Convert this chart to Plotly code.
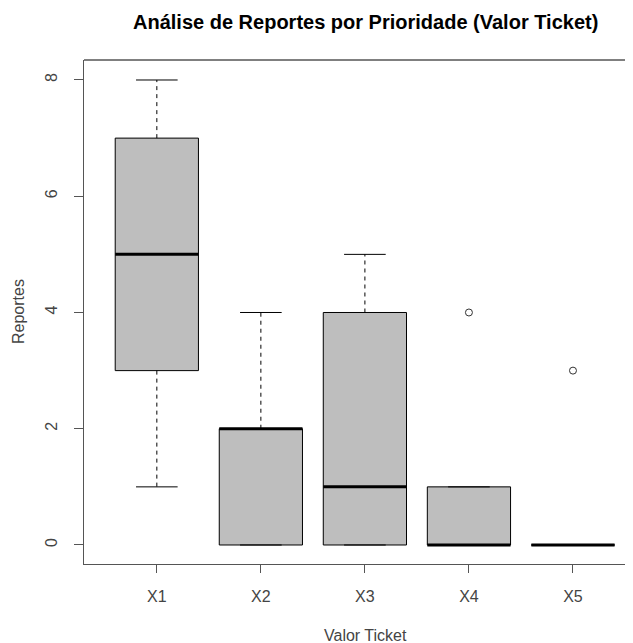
import plotly.graph_objects as go

# boxplot summary per priority
categories = ["X1", "X2", "X3", "X4", "X5"]
q1 = [3, 0, 0, 0, 0]
median = [5, 2, 1, 0, 0]
q3 = [7, 2, 4, 1, 0]
whisk_lo = [1, 0, 0, 0, 0]
whisk_hi = [8, 4, 5, 1, 0]
outlier_cat = ["X4", "X5"]
outlier_val = [4, 3]

BOX_W = 0.8
CAP_W = 0.4
FONT = "Liberation Sans, Arial, sans-serif"

pos = list(range(1, len(categories) + 1))
pos_of = dict(zip(categories, pos))

fig = go.Figure()

# boxes (q1 -> q3)
fig.add_trace(go.Bar(
    x=pos, y=[b - a for a, b in zip(q1, q3)], base=q1, width=BOX_W,
    marker=dict(color="#BEBEBE", line=dict(color="black", width=1)),
    hoverinfo="skip",
))

def segs(xs, ys):
    X, Y = [], []
    for (x0, x1), (y0, y1) in zip(xs, ys):
        X += [x0, x1, None]
        Y += [y0, y1, None]
    return X, Y

# whiskers (dashed)
wx, wy = segs([(p, p) for p in pos] * 2,
              list(zip(q3, whisk_hi)) + list(zip(q1, whisk_lo)))
fig.add_trace(go.Scatter(x=wx, y=wy, mode="lines",
                         line=dict(color="black", width=1, dash="4px,4px"),
                         hoverinfo="skip"))

# caps
cx, cy = segs([(p - CAP_W / 2, p + CAP_W / 2) for p in pos] * 2,
              [(v, v) for v in whisk_hi] + [(v, v) for v in whisk_lo])
fig.add_trace(go.Scatter(x=cx, y=cy, mode="lines",
                         line=dict(color="black", width=1), hoverinfo="skip"))

# medians
mx, my = segs([(p - BOX_W / 2, p + BOX_W / 2) for p in pos],
              [(m, m) for m in median])
fig.add_trace(go.Scatter(x=mx, y=my, mode="lines",
                         line=dict(color="black", width=3), hoverinfo="skip"))

# outliers
fig.add_trace(go.Scatter(
    x=[pos_of[c] for c in outlier_cat], y=outlier_val, mode="markers",
    marker=dict(symbol="circle-open", size=7, color="#333", line=dict(width=1)),
    hoverinfo="skip",
))

# page body adds 8px, so the figure is 8px smaller than the window
fig.update_layout(
    width=625, height=635,
    margin=dict(l=76, r=0, t=52, b=79),
    paper_bgcolor="white", plot_bgcolor="white",
    showlegend=False, barmode="overlay",
    font=dict(family=FONT, size=16, color="#444"),
    annotations=[
        dict(text="<b>Análise de Reportes por Prioridade (Valor Ticket)</b>",
             xref="paper", yref="paper", x=0.512, y=1, yshift=38,
             showarrow=False, font=dict(size=20, color="black"),
             xanchor="center", yanchor="middle"),
        dict(text="Valor Ticket", xref="paper", yref="paper",
             x=0.512, y=0, yshift=-71, showarrow=False,
             xanchor="center", yanchor="middle"),
        dict(text="Reportes", xref="paper", yref="paper",
             x=0, xshift=-66, y=0.5, textangle=-90, showarrow=False,
             xanchor="center", yanchor="middle"),
    ],
    shapes=[dict(type="line", xref="paper", yref="paper",
                 x0=0, x1=1, y0=1, y1=1, line=dict(color="black", width=1))],
)

fig.update_xaxes(
    range=[0.3, 5.577], tickmode="array", tickvals=pos, ticktext=categories,
    showgrid=False, zeroline=False, showline=True, linecolor="#555", linewidth=1,
    ticks="outside", ticklen=8, tickcolor="#555", ticklabelstandoff=10,
)
fig.update_yaxes(
    range=[-0.327, 8.344], tickmode="array", tickvals=[0, 2, 4, 6, 8],
    showgrid=False, zeroline=False, showline=True, linecolor="#555", linewidth=1,
    ticks="outside", ticklen=9, tickcolor="#555", tickangle=-90,
    ticklabelstandoff=11,
)

fig.write_html("out.html")
